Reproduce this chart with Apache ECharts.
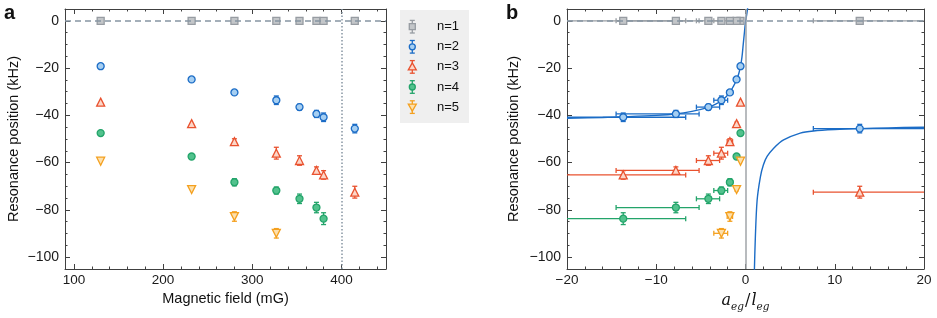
<!DOCTYPE html>
<html><head><meta charset="utf-8">
<script src="https://cdn.jsdelivr.net/npm/echarts@6/dist/echarts.min.js"></script>
<style>html,body{margin:0;padding:0;background:#fff}#c{width:937px;height:318px}</style>
</head><body><div id="c"></div>
<script>
// ---------------- data ----------------
const seriesNames = ['n=1', 'n=2', 'n=3', 'n=4', 'n=5'];
// panel a: magnetic field (mG)
const fieldA = [130, 232, 280, 327, 353, 372, 380, 415];
// panel b: a_eg / l_eg for the same fields, with horizontal error bounds
const ratioB = [-0.56, -1.0, -1.75, -2.7, -4.16, -7.8, -13.7, 12.8];
const ratioLo = [-0.66, -1.15, -2.05, -3.55, -5.5, -14.5, -30, 7.6];
const ratioHi = [-0.46, -0.87, -1.45, -2.0, -2.9, -5.2, -6.7, 40];
// resonance positions (kHz) and errors
const n1 = [0, 0, 0, 0, 0, 0, 0, 0];
const n1Err = [0.4, 0.4, 0.4, 0.4, 0.4, 0.4, 0.4, 0.4];
const n2 = [-19.2, -24.8, -30.3, -33.6, -36.5, -39.4, -40.8, -45.6];
const n2Err = [0.6, 0.8, 1.0, 1.8, 1.2, 1.5, 1.8, 1.8];
const n3 = [-34.4, -43.5, -51.1, -56.0, -59.1, -63.3, -65.2, -72.5];
const n3Err = [0.8, 1.0, 1.2, 2.5, 2.0, 1.5, 1.8, 2.5];
const n4 = [-47.5, -57.4, -68.3, -71.8, -75.3, -79.0, -83.7];
const n4Err = [0.6, 0.6, 1.5, 1.5, 2.0, 2.2, 2.5];
const n5 = [-59.4, -71.4, -82.8, -89.9];
const n5Err = [1.0, 1.0, 2.0, 2.0];
// theory curve (panel b)
const fitLeftX = [-20, -16, -13.7, -10, -7.8, -6, -4.16, -3.4, -2.7, -2.2, -1.75, -1.4, -1.0, -0.75, -0.56, -0.4, -0.26, -0.11, 0.0, 0.15, 0.3];
const fitLeftY = [-41.2, -40.9, -40.6, -40.0, -39.4, -38.3, -36.6, -35.4, -33.8, -32.2, -30.3, -28.0, -25.0, -22.3, -19.3, -15.5, -10.2, -4.5, -0.5, 3.0, 7.0];
const fitRightX = [0.95, 1.0, 1.1, 1.3, 1.67, 2.0, 2.42, 3.16, 4.27, 6.13, 7.62, 10, 12.8, 16, 20];
const fitRightY = [-115, -105, -92, -76, -66, -61, -57.4, -53.9, -50.4, -47.5, -46.6, -46.0, -45.6, -45.3, -45.0];
// ticks
const xTicksA = [100, 200, 300, 400];
const xMinorA = [100,120,140,160,180,200,220,240,260,280,300,320,340,360,380,400,420,440];
const xTicksB = [-20, -10, 0, 10, 20];
const xMinorB = [-20,-18,-16,-14,-12,-10,-8,-6,-4,-2,0,2,4,6,8,10,12,14,16,18,20];
const yTicks = [-100, -80, -60, -40, -20, 0];
const yMinor = [-105,-100,-95,-90,-85,-80,-75,-70,-65,-60,-55,-50,-45,-40,-35,-30,-25,-20,-15,-10,-5,0,5];

// ---------------- styles ----------------
const FONT = 'Liberation Sans, Arial, Helvetica, sans-serif';
const AX = '#404040';
const styles = [
  {stroke: '#979ca2', fill: '#c3c6c9', symbol: 'rect', size: 7, rotate: 0},
  {stroke: '#1b6cc6', fill: '#a6cff2', symbol: 'circle', size: 7, rotate: 0},
  {stroke: '#e9522f', fill: '#fcd6c8', symbol: 'triangle', size: 8, rotate: 0},
  {stroke: '#23a46a', fill: '#52c28d', symbol: 'circle', size: 7, rotate: 0},
  {stroke: '#f4a01f', fill: '#fde0ad', symbol: 'triangle', size: 8, rotate: 180}
];
const minus = v => String(v).replace('-', '\u2212');

function axisPair(kind, grid, pos, min, max, major, minor, withLabels, extra) {
  const base = {
    gridIndex: grid, type: 'value', position: pos, min: min, max: max,
    splitLine: {show: false},
    axisLine: {onZero: false, show: true, lineStyle: {color: AX, width: 1}},
  };
  const maj = Object.assign({}, base, {
    axisTick: {show: true, inside: true, length: 5, customValues: major, lineStyle: {color: AX, width: 1}},
    axisLabel: withLabels ? {show: true, customValues: major, formatter: minus, color: '#1a1a1a',
      fontSize: kind === 'x' ? 13.5 : 14, fontFamily: FONT, margin: kind === 'x' ? 4 : 6} : {show: false}
  }, extra || {});
  const mnr = Object.assign({}, base, {
    axisLine: {onZero: false, show: false},
    axisTick: {show: true, inside: true, length: 2.5, customValues: minor, lineStyle: {color: AX, width: 1}},
    axisLabel: {show: false}
  });
  return [maj, mnr];
}

const ytitle = {
  name: 'Resonance position (kHz)', nameLocation: 'middle', nameGap: 44,
  nameTextStyle: {fontSize: 14.5, fontFamily: FONT, color: '#111'}
};
const xAxes = [].concat(
  axisPair('x', 0, 'bottom', 90, 450, xTicksA, xMinorA, true, {
    name: 'Magnetic field (mG)', nameLocation: 'middle', nameGap: 22,
    nameTextStyle: {fontSize: 14.5, fontFamily: FONT, color: '#111'}}),
  axisPair('x', 0, 'top', 90, 450, xTicksA, xMinorA, false),
  axisPair('x', 1, 'bottom', -20, 20, xTicksB, xMinorB, true, {
    name: '{i|a}{s|eg}{n|/}{i|l}{s|eg}', nameLocation: 'middle', nameGap: 24,
    nameTextStyle: {rich: {
      i: {fontFamily: 'DejaVu Serif, Liberation Serif, serif', fontStyle: 'italic', fontSize: 16, color: '#111', lineHeight: 20, verticalAlign: 'top'},
      s: {fontFamily: 'DejaVu Serif, Liberation Serif, serif', fontStyle: 'italic', fontSize: 10.5, color: '#111', lineHeight: 26, verticalAlign: 'top', padding: [9, 0, 0, 0]},
      n: {fontFamily: 'DejaVu Serif, Liberation Serif, serif', fontSize: 16, color: '#111', lineHeight: 20, verticalAlign: 'top', padding: [0, 1, 0, 1]}
    }}}),
  axisPair('x', 1, 'top', -20, 20, xTicksB, xMinorB, false)
);
const yAxes = [].concat(
  axisPair('y', 0, 'left', -105, 5, yTicks, yMinor, true, ytitle),
  axisPair('y', 0, 'right', -105, 5, yTicks, yMinor, false),
  axisPair('y', 1, 'left', -105, 5, yTicks, yMinor, true, Object.assign({}, ytitle, {nameGap: 46})),
  axisPair('y', 1, 'right', -105, 5, yTicks, yMinor, false)
);

function errRender(color) {
  return function (params, api) {
    const cs = params.coordSys;
    const x = api.value(0), y = api.value(1), ylo = api.value(2), yhi = api.value(3);
    const xlo = api.value(4), xhi = api.value(5);
    const st = {stroke: color, lineWidth: 1.3};
    const ch = [];
    const p1 = api.coord([x, ylo]), p2 = api.coord([x, yhi]);
    ch.push({type: 'line', shape: {x1: p1[0], y1: p1[1], x2: p2[0], y2: p2[1]}, style: st});
    if (Math.abs(p1[1] - p2[1]) > 5) {
      ch.push({type: 'line', shape: {x1: p1[0] - 2.5, y1: p1[1], x2: p1[0] + 2.5, y2: p1[1]}, style: st});
      ch.push({type: 'line', shape: {x1: p2[0] - 2.5, y1: p2[1], x2: p2[0] + 2.5, y2: p2[1]}, style: st});
    }
    if (xlo !== xhi) {
      const q1 = api.coord([xlo, y]), q2 = api.coord([xhi, y]);
      const L = Math.max(q1[0], cs.x), R = Math.min(q2[0], cs.x + cs.width);
      ch.push({type: 'line', shape: {x1: L, y1: q1[1], x2: R, y2: q1[1]}, style: st});
      if (q1[0] >= cs.x) ch.push({type: 'line', shape: {x1: L, y1: q1[1] - 2.5, x2: L, y2: q1[1] + 2.5}, style: st});
      if (q2[0] <= cs.x + cs.width) ch.push({type: 'line', shape: {x1: R, y1: q1[1] - 2.5, x2: R, y2: q1[1] + 2.5}, style: st});
    }
    return {type: 'group', children: ch};
  };
}

const allY = [n1, n2, n3, n4, n5];
const allE = [n1Err, n2Err, n3Err, n4Err, n5Err];
const series = [];
function addPanel(xsFn, axisIdx, withX) {
  allY.forEach((ys, k) => {
    const s = styles[k];
    const errData = ys.map((y, i) => [xsFn(i), y, y - allE[k][i], y + allE[k][i],
      withX ? ratioLo[i] : xsFn(i), withX ? ratioHi[i] : xsFn(i)]);
    series.push({type: 'custom', name: seriesNames[k], xAxisIndex: axisIdx, yAxisIndex: axisIdx,
      renderItem: errRender(s.stroke), data: errData, encode: {x: 0, y: 1}, z: 3, silent: true});
    series.push({type: 'scatter', name: seriesNames[k], xAxisIndex: axisIdx, yAxisIndex: axisIdx,
      data: ys.map((y, i) => [xsFn(i), y]), symbol: s.symbol, symbolSize: s.size, symbolRotate: s.rotate,
      itemStyle: {color: s.fill, borderColor: s.stroke, borderWidth: 1.3, opacity: 1}, z: 4, silent: true});
  });
}
addPanel(i => fieldA[i], 0, false);
addPanel(i => ratioB[i], 4, true);

// reference lines
series.push({type: 'line', xAxisIndex: 0, yAxisIndex: 0, data: [], z: 2, silent: true,
  markLine: {symbol: 'none', silent: true, label: {show: false}, animation: false,
    data: [
      {yAxis: 0, lineStyle: {color: '#8795a3', type: [6, 4], width: 1.5}},
      {xAxis: 400, lineStyle: {color: '#8795a3', type: [1.5, 2], width: 1.5}}
    ]}});
series.push({type: 'line', xAxisIndex: 4, yAxisIndex: 4, data: [], z: 2, silent: true,
  markLine: {symbol: 'none', silent: true, label: {show: false}, animation: false,
    data: [
      {yAxis: 0, lineStyle: {color: '#8795a3', type: [6, 4], width: 1.5}},
      {xAxis: 0, lineStyle: {color: '#a0a4a8', type: 'solid', width: 1.5}}
    ]}});
// theory curves
[[fitLeftX, fitLeftY], [fitRightX, fitRightY]].forEach(([xs, ys]) => {
  series.push({type: 'line', xAxisIndex: 4, yAxisIndex: 4, showSymbol: false, smooth: 0.3, clip: true,
    data: xs.map((x, i) => [x, ys[i]]), z: 3, silent: true,
    lineStyle: {color: '#1b6cc6', width: 1.4}});
});

// legend as graphics
const legendChildren = [{type: 'rect', shape: {x: 400, y: 10, width: 69, height: 113}, style: {fill: '#efefef'}}];
seriesNames.forEach((nm, k) => {
  const s = styles[k];
  const cx = 412.3, cy = 26.7 + k * 20.1;
  const st = {stroke: s.stroke, lineWidth: 1.3};
  legendChildren.push({type: 'line', shape: {x1: cx, y1: cy - 6.3, x2: cx, y2: cy + 6.3}, style: st});
  legendChildren.push({type: 'line', shape: {x1: cx - 2.5, y1: cy - 6.3, x2: cx + 2.5, y2: cy - 6.3}, style: st});
  legendChildren.push({type: 'line', shape: {x1: cx - 2.5, y1: cy + 6.3, x2: cx + 2.5, y2: cy + 6.3}, style: st});
  const ms = {fill: s.fill, stroke: s.stroke, lineWidth: 1.3};
  if (s.symbol === 'rect') legendChildren.push({type: 'rect', shape: {x: cx - 3, y: cy - 3, width: 6, height: 6}, style: ms});
  else if (s.symbol === 'circle') legendChildren.push({type: 'circle', shape: {cx: cx, cy: cy, r: 3}, style: ms});
  else if (s.rotate === 180) legendChildren.push({type: 'polygon', shape: {points: [[cx - 4, cy - 3], [cx + 4, cy - 3], [cx, cy + 4]]}, style: ms});
  else legendChildren.push({type: 'polygon', shape: {points: [[cx, cy - 4], [cx + 4, cy + 3], [cx - 4, cy + 3]]}, style: ms});
  legendChildren.push({type: 'text', x: 437, y: cy, style: {text: nm, font: '13px ' + FONT, fill: '#111', verticalAlign: 'middle'}});
});

const chart = echarts.init(document.getElementById('c'), null, {renderer: 'canvas'});
chart.setOption({
  animation: false,
  backgroundColor: '#fff',
  grid: [
    {left: 65, top: 9, width: 321, height: 260},
    {left: 567, top: 9, width: 357, height: 260}
  ],
  xAxis: xAxes,
  yAxis: yAxes,
  series: series,
  graphic: [
    {type: 'text', x: 4, y: 3, style: {text: 'a', font: 'bold 20px ' + FONT, fill: '#111'}},
    {type: 'text', x: 506, y: 3, style: {text: 'b', font: 'bold 20px ' + FONT, fill: '#111'}},
    {type: 'group', children: legendChildren}
  ]
});
</script></body></html>
